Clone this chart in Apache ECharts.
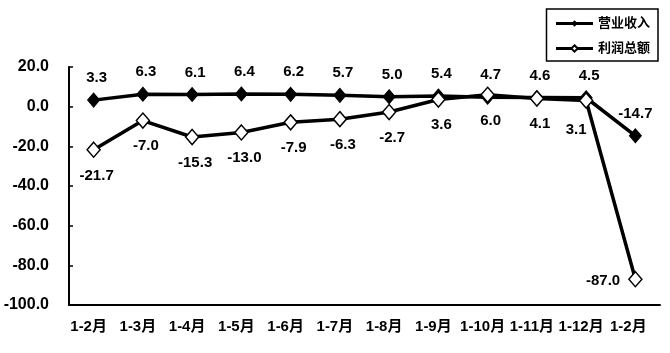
<!DOCTYPE html>
<html>
<head>
<meta charset="utf-8">
<script src="https://cdn.jsdelivr.net/npm/echarts@6/dist/echarts.min.js"></script>
<style>
  html, body { margin: 0; padding: 0; background: #fff; }
  #chart { width: 670px; height: 353px; }
</style>
</head>
<body>
<div id="chart"></div>
<script>
const categories = ["1-2月", "1-3月", "1-4月", "1-5月", "1-6月", "1-7月", "1-8月", "1-9月", "1-10月", "1-11月", "1-12月", "1-2月 "];
const revenue = [3.3, 6.3, 6.1, 6.4, 6.2, 5.7, 5.0, 5.4, 4.7, 4.6, 4.5, -14.7];
const profit = [-21.7, -7.0, -15.3, -13.0, -7.9, -6.3, -2.7, 3.6, 6.0, 4.1, 3.1, -87.0];
const seriesNames = ["营业收入", "利润总额"];

const font = "'Liberation Sans', Arial, 'Noto Sans CJK SC', sans-serif";

const myChart = echarts.init(document.getElementById("chart"));

// 末尾两个点的标签位置单独调整
const lastIdx = revenue.length - 1;
const revenueData = revenue.map((v, i) =>
  i === lastIdx ? { value: v, label: { offset: [0, 0] } } : v
);
const profitData = profit.map((v, i) => {
  if (i === lastIdx) return { value: v, label: { position: "left", distance: 8, offset: [0, 2] } };
  if (i === lastIdx - 1) return { value: v, label: { offset: [-10, 4] } };
  return v;
});

const labelStyle = {
  show: true,
  color: "#000",
  fontFamily: font,
  fontSize: 15,
  fontWeight: "bold",
  formatter: (p) => p.value.toFixed(1),
};

const option = {
  backgroundColor: "#fff",
  animation: false,
  grid: { left: 69, right: 10, top: 67, bottom: 48 },
  legend: {
    orient: "vertical",
    right: 12,
    top: 9,
    itemWidth: 37,
    itemHeight: 8,
    itemGap: 12,
    padding: [8, 8, 6, 8],
    borderColor: "#000",
    borderWidth: 1.5,
    borderRadius: 0,
    lineStyle: { width: 3, color: "#000" },
    textStyle: { fontFamily: font, fontSize: 13, fontWeight: "bold", color: "#000" },
    data: seriesNames,
  },
  xAxis: {
    type: "category",
    data: categories,
    boundaryGap: true,
    axisLine: { onZero: false, lineStyle: { color: "#000", width: 2 } },
    axisTick: { inside: true, length: 6, lineStyle: { color: "#000", width: 1.5 } },
    axisLabel: {
      interval: 0,
      margin: 14,
      padding: [0, 10, 0, 0],
      color: "#000",
      fontFamily: font,
      fontSize: 15,
      fontWeight: "bold",
    },
  },
  yAxis: {
    type: "value",
    min: -100,
    max: 20,
    interval: 20,
    splitLine: { show: false },
    axisLine: { show: true, lineStyle: { color: "#000", width: 2 } },
    axisTick: { show: true, inside: true, length: 4, lineStyle: { color: "#000", width: 1.5 } },
    axisLabel: {
      margin: 20,
      color: "#000",
      fontFamily: font,
      fontSize: 16,
      fontWeight: "bold",
      formatter: (v) => v.toFixed(1),
    },
  },
  series: [
    {
      name: seriesNames[0],
      type: "line",
      data: revenueData,
      symbol: "diamond",
      symbolSize: [12, 14],
      itemStyle: { color: "#000", borderColor: "#000" },
      lineStyle: { color: "#000", width: 3.5 },
      z: 3,
      label: Object.assign({ position: "top", distance: 7, offset: [3, 0] }, labelStyle),
    },
    {
      name: seriesNames[1],
      type: "line",
      data: profitData,
      symbol: "diamond",
      symbolSize: [13, 15],
      itemStyle: { color: "#fff", borderColor: "#000", borderWidth: 1.5 },
      lineStyle: { color: "#000", width: 3.5 },
      z: 4,
      label: Object.assign({ position: "bottom", distance: 10, offset: [3, 0] }, labelStyle),
    },
  ],
};

myChart.setOption(option);
</script>
</body>
</html>
